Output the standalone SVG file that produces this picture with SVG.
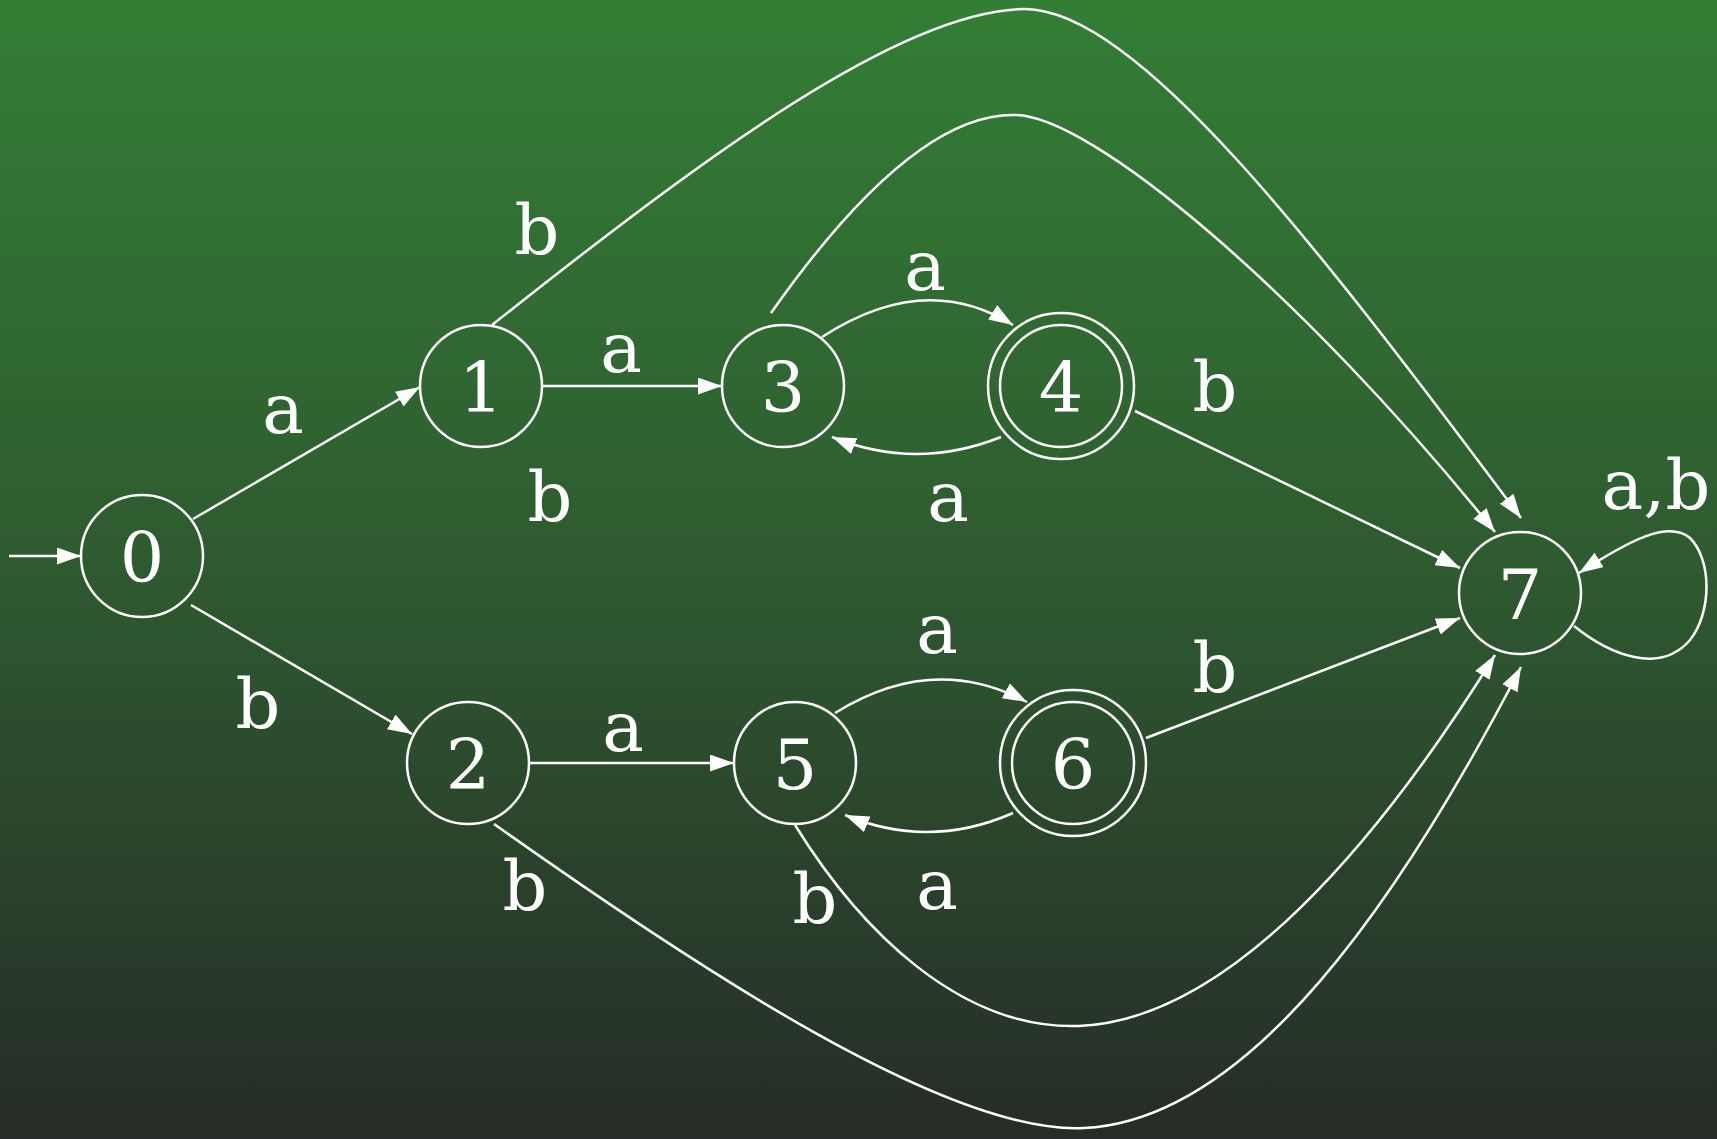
<svg xmlns="http://www.w3.org/2000/svg" width="1717" height="1139" viewBox="0 0 1717 1139">
<defs>
<linearGradient id="bg" x1="0" y1="0" x2="0" y2="1">
<stop offset="0" stop-color="#337e35"/>
<stop offset="0.5" stop-color="#2e5a30"/>
<stop offset="1" stop-color="#262c27"/>
</linearGradient>
<marker id="arr" markerUnits="userSpaceOnUse" markerWidth="26" markerHeight="20" refX="24" refY="8.5" orient="auto">
<path d="M0,0 L24,8.5 L0,17 Z" fill="#fff"/>
</marker>
<style>
.n{fill:none;stroke:#fff;stroke-width:2.5}
.e{fill:none;stroke:#fff;stroke-width:2.5;marker-end:url(#arr)}
text{font-family:"DejaVu Serif","Liberation Serif",serif;font-size:70px;fill:#fff;text-anchor:middle}
</style>
</defs>
<rect width="1717" height="1139" fill="url(#bg)"/>
<g id="connectors">
<path class="e" d="M9,556 L81,556"/>
<path class="e" d="M193,519 L420,387"/>
<path class="e" d="M191,605 L412,734"/>
<path class="e" d="M542,386 L722,386"/>
<path class="e" d="M822,337 Q925,270 1013,325"/>
<path class="e" d="M1001,437 Q916,471 832,437"/>
<path class="e" d="M1135,411 L1460,568"/>
<path class="e" d="M1146,738 L1460,618"/>
<path class="e" d="M1574,626 C1610,655 1660,675 1690,640 C1712,612 1712,560 1690,538 C1668,520 1630,540 1579,573"/>
<path class="e" d="M492,325 C700,160 900,10 1025,9 C1135,10 1310,235 1521,518"/>
<path class="e" d="M771,313 C840,215 930,113 1015,115 C1090,115 1300,290 1495,532"/>
<path class="e" d="M528,763 L734,763"/>
<path class="e" d="M835,713 Q933,652 1027,702"/>
<path class="e" d="M1013,813 Q929,850 845,815"/>
<path class="e" d="M494,824 C700,970 950,1135 1084,1128 C1250,1120 1400,900 1521,667"/>
<path class="e" d="M795,825 C860,930 960,1030 1079,1026 C1230,1020 1380,840 1495,655"/>
<text x="283" y="433">a</text>
<text x="258" y="728">b</text>
<text x="621" y="372">a</text>
<text x="537" y="254">b</text>
<text x="550" y="521">b</text>
<text x="925" y="290">a</text>
<text x="948" y="521">a</text>
<text x="1215" y="411">b</text>
<text x="1656" y="509">a,b</text>
<text x="937" y="653">a</text>
<text x="1215" y="692">b</text>
<text x="623" y="751">a</text>
<text x="937" y="909">a</text>
<text x="525" y="910">b</text>
<text x="815" y="923">b</text>
</g>
<g id="node0"><circle class="n" cx="142" cy="556" r="61"/><text x="142" y="582">0</text></g>
<g id="node1"><circle class="n" cx="481" cy="386" r="61"/><text x="481" y="412">1</text></g>
<g id="node2"><circle class="n" cx="468" cy="763" r="61"/><text x="468" y="789">2</text></g>
<g id="node3"><circle class="n" cx="783" cy="386" r="61"/><text x="783" y="412">3</text></g>
<g id="node4"><circle class="n" cx="1061" cy="386" r="73"/><circle class="n" cx="1061" cy="386" r="61"/><text x="1061" y="412">4</text></g>
<g id="node5"><circle class="n" cx="795" cy="763" r="61"/><text x="795" y="789">5</text></g>
<g id="node6"><circle class="n" cx="1073" cy="763" r="73"/><circle class="n" cx="1073" cy="763" r="61"/><text x="1073" y="789">6</text></g>
<g id="node7"><circle class="n" cx="1520" cy="593" r="61"/><text x="1520" y="619">7</text></g>
</svg>
